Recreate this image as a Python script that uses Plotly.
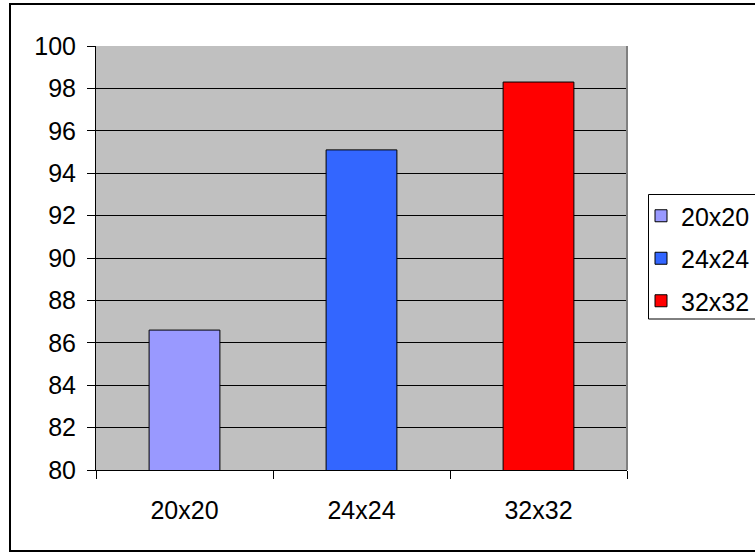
import plotly.graph_objects as go

# Recognition accuracy by grid size
categories = ["20x20", "24x24", "32x32"]
values = [86.6, 95.1, 98.3]
colors = ["#9999FF", "#3366FF", "#FF0000"]
y_ticks = [80, 82, 84, 86, 88, 90, 92, 94, 96, 98, 100]

W, H = 755, 552
ML, MR, MT, MB = 96, 128, 46, 82
pw, ph = W - ML - MR, H - MT - MB


def px_x(p):
    return (p - ML) / pw


def px_y(p):
    return (H - MB - p) / ph


fig = go.Figure()
for cat, val, col in zip(categories, values, colors):
    fig.add_trace(go.Bar(
        x=[cat], y=[val], name=cat, width=0.4,
        marker=dict(color=col, line=dict(color="black", width=1)),
        legendgroup=cat,
    ))

font = dict(family="Liberation Sans, Arial, sans-serif", size=25, color="black")

fig.update_layout(
    width=W, height=H,
    margin=dict(l=ML, r=MR, t=MT, b=MB, autoexpand=False),
    paper_bgcolor="white",
    plot_bgcolor="#C0C0C0",
    barmode="overlay",
    font=font,
    showlegend=True,
    hovermode=False,
    legend=dict(
        x=px_x(641), y=px_y(193), xanchor="left", yanchor="top",
        bgcolor="rgba(0,0,0,0)", borderwidth=0,
        font=dict(family="Liberation Sans, Arial, sans-serif", size=25),
        tracegroupgap=7, itemwidth=30,
    ),
    xaxis=dict(
        type="category", categoryorder="array", categoryarray=categories,
        showgrid=False, showline=True, linecolor="black", linewidth=1,
        ticks="outside", ticklen=8, tickcolor="black", tickson="boundaries",
        ticklabelstandoff=18, zeroline=False, fixedrange=True,
    ),
    yaxis=dict(
        range=[80, 100], tickvals=y_ticks,
        showgrid=True, gridcolor="black", gridwidth=1,
        showline=True, linecolor="black", linewidth=1,
        ticks="outside", ticklen=8, tickcolor="black",
        ticklabelstandoff=6, zeroline=False, fixedrange=True,
    ),
    shapes=[
        # right edge of the plot area
        dict(type="line", xref="paper", yref="paper", x0=1, x1=1, y0=0, y1=1,
             line=dict(color="#808080", width=2)),
        # outer chart border
        dict(type="rect", xref="paper", yref="paper",
             x0=px_x(10), x1=px_x(770), y0=px_y(551), y1=px_y(4),
             line=dict(color="black", width=2), layer="below"),
        # legend frame
        dict(type="rect", xref="paper", yref="paper",
             x0=px_x(648.5), x1=px_x(770), y0=px_y(319), y1=px_y(194.5),
             line=dict(color="black", width=1), fillcolor="white", layer="below"),
    ],
)

fig.write_html("out.html")
